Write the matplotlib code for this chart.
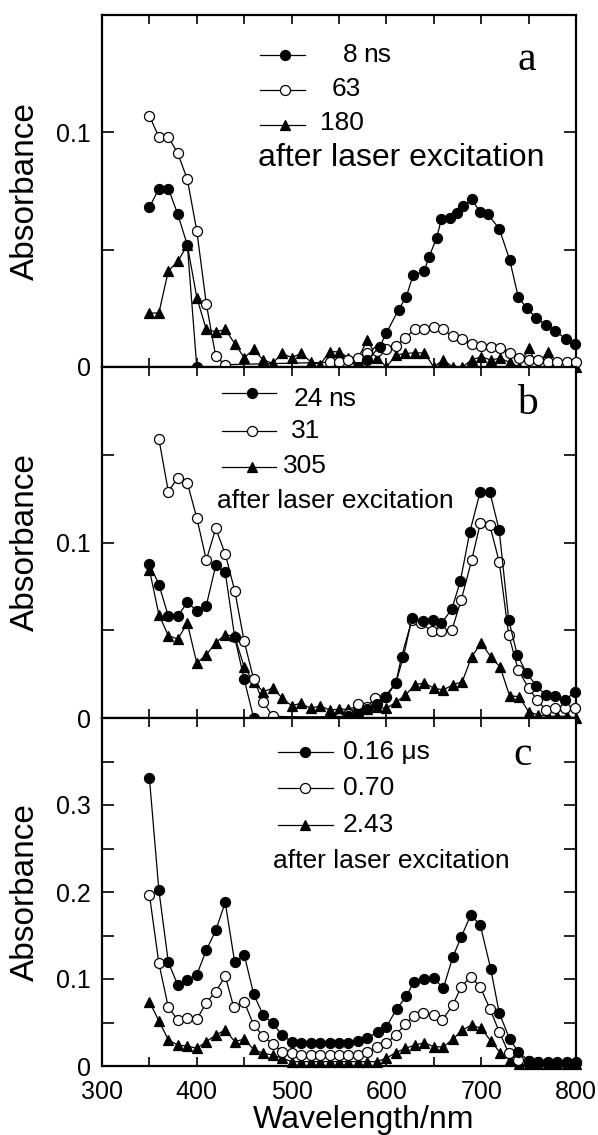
import numpy as np
import matplotlib
matplotlib.use("Agg")
import matplotlib.pyplot as plt
from matplotlib.lines import Line2D

plt.rcParams['font.family'] = ['Liberation Sans', 'DejaVu Sans']

# ---------------- data ----------------
# Panel a
wl_a1 = [350, 360, 370, 380, 390, 400, 570, 580, 593, 600, 613, 621, 628, 640, 645, 653, 658, 667, 674,
         681, 690, 699, 707, 719, 730, 739, 748, 758, 768, 778, 789, 799]
abs_a1 = [0.068, 0.076, 0.076, 0.065, 0.052, 0.0, 0.0, 0.003, 0.0087, 0.0145, 0.0245, 0.030, 0.039, 0.041,
          0.047, 0.055, 0.063, 0.0635, 0.0656, 0.0685, 0.0714, 0.066, 0.065, 0.059, 0.0457, 0.030, 0.025,
          0.021, 0.018, 0.0155, 0.012, 0.0097]
wl_a2 = [350, 360, 370, 380, 390, 400, 410, 420, 430, 540, 550, 560, 570, 580, 590, 600, 610, 620, 630,
         640, 650, 660, 670, 680, 690, 700, 710, 720, 730, 740, 750, 760, 770, 780, 790, 800]
abs_a2 = [0.107, 0.098, 0.098, 0.091, 0.080, 0.058, 0.027, 0.0045, 0.001, 0.002, 0.002, 0.003, 0.004,
          0.006, 0.007, 0.0075, 0.009, 0.0125, 0.016, 0.016, 0.017, 0.016, 0.013, 0.012, 0.010, 0.009,
          0.0085, 0.008, 0.006, 0.004, 0.003, 0.003, 0.002, 0.002, 0.002, 0.002]
wl_a3 = list(range(350, 801, 10))
abs_a3 = [0.023, 0.023, 0.041, 0.045, 0.052, 0.0296, 0.016, 0.015, 0.016, 0.010, 0.004, 0.0075, 0.003,
          0.0016, 0.0058, 0.004, 0.0058, 0.0023, 0.001, 0.0065, 0.0065, 0.004, 0.0037, 0.0115, 0.004,
          0.0, 0.005, 0.0058, 0.006, 0.006, 0.0, 0.003, 0.0, 0.0, 0.003, 0.0044, 0.003, 0.0037, 0.002,
          0.0, 0.008, 0.0, 0.0065, 0.0, 0.0, 0.0]

# Panel b
wl_b1 = [350, 360, 370, 380, 390, 400, 410, 420, 430, 440, 450, 460, 560, 570, 580, 590, 600, 610, 618,
         627, 639, 649, 658, 669, 678, 688, 699, 709, 719, 729, 738, 748, 758, 768, 778, 788, 799]
abs_b1 = [0.088, 0.076, 0.058, 0.058, 0.066, 0.061, 0.064, 0.087, 0.083, 0.046, 0.022, 0.0, 0.001, 0.002,
          0.005, 0.008, 0.012, 0.020, 0.035, 0.057, 0.055, 0.056, 0.054, 0.062, 0.078, 0.106, 0.129,
          0.129, 0.107, 0.056, 0.036, 0.0255, 0.0185, 0.013, 0.0125, 0.010, 0.015]
wl_b2 = [360, 370, 380, 390, 400, 410, 420, 430, 440, 450, 460, 470, 480, 550, 560, 570, 580, 588, 598,
         610, 616, 627, 637, 648, 658, 669, 679, 690, 699, 709, 719, 729, 739, 750, 759, 768, 778, 788, 799]
abs_b2 = [0.159, 0.129, 0.137, 0.134, 0.114, 0.090, 0.108, 0.0935, 0.0726, 0.0436, 0.0221, 0.0093, 0.001,
          0.0, 0.002, 0.008, 0.0065, 0.0115, 0.012, 0.020, 0.035, 0.056, 0.054, 0.0493, 0.0493, 0.050,
          0.0674, 0.090, 0.111, 0.110, 0.089, 0.0474, 0.0274, 0.017, 0.0103, 0.0046, 0.0055, 0.0055, 0.0055]
wl_b3 = list(range(350, 801, 10))
abs_b3 = [0.0846, 0.0589, 0.0469, 0.045, 0.054, 0.0313, 0.036, 0.043, 0.0474, 0.0465, 0.029, 0.0207,
          0.015, 0.017, 0.0115, 0.007, 0.0084, 0.0055, 0.0069, 0.0046, 0.005, 0.005, 0.007, 0.005, 0.006,
          0.0055, 0.009, 0.013, 0.0189, 0.020, 0.017, 0.016, 0.0189, 0.0207, 0.035, 0.0427, 0.035, 0.029,
          0.0126, 0.0122, 0.0036, 0.0017, 0.001, 0.001, 0.001, 0.0]

# Panel c
wl_c1 = [350, 360, 370, 380, 390, 400, 410, 420, 430, 440, 450, 460, 470, 480, 490, 500, 510, 520, 530,
         540, 550, 560, 570, 580, 591, 600, 611, 621, 629, 640, 650, 660, 670, 679, 689, 699, 710, 719,
         730, 739, 750, 760, 770, 780, 790, 800]
abs_c1 = [0.331, 0.202, 0.119, 0.093, 0.099, 0.105, 0.133, 0.156, 0.188, 0.119, 0.128, 0.0824, 0.0586,
          0.049, 0.0356, 0.028, 0.026, 0.026, 0.026, 0.026, 0.026, 0.027, 0.029, 0.032, 0.0395, 0.045,
          0.066, 0.080, 0.097, 0.0996, 0.101, 0.0893, 0.125, 0.1486, 0.1736, 0.162, 0.112, 0.061, 0.031,
          0.0165, 0.006, 0.005, 0.004, 0.004, 0.004, 0.004]
wl_c2 = [350, 360, 370, 380, 390, 400, 410, 420, 430, 439, 450, 460, 470, 480, 490, 500, 510, 520, 530,
         540, 550, 560, 570, 580, 590, 600, 610, 620, 629, 639, 650, 659, 670, 679, 689, 699, 709, 719,
         729, 739, 750, 760, 770, 780, 790, 800]
abs_c2 = [0.197, 0.118, 0.0674, 0.0529, 0.0548, 0.0536, 0.0728, 0.0854, 0.1034, 0.0674, 0.0739, 0.047,
          0.0345, 0.025, 0.0164, 0.0146, 0.0126, 0.0126, 0.0126, 0.0126, 0.0126, 0.0126, 0.0126, 0.016,
          0.022, 0.026, 0.036, 0.048, 0.0575, 0.0605, 0.0586, 0.0529, 0.070, 0.091, 0.1027, 0.091, 0.066,
          0.0395, 0.0146, 0.007, 0.006, 0.005, 0.005, 0.005, 0.005, 0.005]
wl_c3 = list(range(350, 801, 10))
abs_c3 = [0.0739, 0.052, 0.030, 0.024, 0.023, 0.0203, 0.028, 0.0356, 0.0414, 0.028, 0.031, 0.019, 0.0146,
          0.0126, 0.009, 0.005, 0.005, 0.005, 0.005, 0.005, 0.005, 0.005, 0.005, 0.005, 0.005, 0.009,
          0.0155, 0.0203, 0.024, 0.0268, 0.022, 0.022, 0.0306, 0.0414, 0.047, 0.0433, 0.029, 0.0153,
          0.007, 0.002, 0.002, 0.002, 0.002, 0.002, 0.002, 0.002]

labels_a = ["8", "63", "180"]
labels_b = ["24", "31", "305"]
labels_c = ["0.16 \u03bcs", "0.70", "2.43"]
note_text = "after laser excitation"
ylim_list = [0.15, 0.2, 0.4]
yticks_a = [0, 0.1]
yticks_b = [0, 0.1]
yticks_c = [0, 0.1, 0.2, 0.3]
ytick_labels_a = ["0", "0.1"]
ytick_labels_b = ["0", "0.1"]
ytick_labels_c = ["0", "0.1", "0.2", "0.3"]
xticks = [300, 400, 500, 600, 700, 800]
xtick_labels = ["300", "400", "500", "600", "700", "800"]

# ---------------- figure ----------------
W, H = 598, 1135
fig = plt.figure(figsize=(W / 100, H / 100), dpi=100)

def fx(px):
    return px / W

def fy(py):
    return 1 - py / H

left, right = 102, 576
panels = [(15, 367), (367, 718), (718, 1066)]
axes = []
for top, bot in panels:
    ax = fig.add_axes([fx(left), fy(bot), fx(right) - fx(left), (bot - top) / H])
    axes.append(ax)

styles = [dict(marker='o', mfc='black', mec='black'),
          dict(marker='o', mfc='white', mec='black'),
          dict(marker='^', mfc='black', mec='black')]
msizes = [7.2, 7.2, 7.5]

series = [
    [(wl_a1, abs_a1), (wl_a2, abs_a2), (wl_a3, abs_a3)],
    [(wl_b1, abs_b1), (wl_b2, abs_b2), (wl_b3, abs_b3)],
    [(wl_c1, abs_c1), (wl_c2, abs_c2), (wl_c3, abs_c3)],
]
ytk = [(yticks_a, ytick_labels_a), (yticks_b, ytick_labels_b), (yticks_c, ytick_labels_c)]

for i, ax in enumerate(axes):
    for j, (wl, ab) in enumerate(series[i]):
        ax.plot(wl, ab, color='black', lw=0.9, ms=msizes[j], mew=0.9, zorder=3 + (2 - j) * 0.1,
                clip_on=False, **styles[j])
    ax.set_xlim(300, 800)
    ax.set_ylim(0, ylim_list[i])
    ax.set_xticks(xticks)
    ax.set_xticks(np.arange(350, 800, 100), minor=True)
    ax.set_yticks(ytk[i][0])
    ax.set_yticklabels(ytk[i][1])
    ax.set_yticks(np.arange(0.05, ylim_list[i], 0.1), minor=True)
    ax.tick_params(axis='x', which='both', direction='in', top=True, bottom=True,
                   length=6.5, width=1.2, labelsize=18, pad=10)
    ax.tick_params(axis='y', which='both', direction='in', left=True, right=True,
                   length=8.5, width=1.2, labelsize=18, pad=8)
    for sp in ax.spines.values():
        sp.set_linewidth(1.6)
    if i < 2:
        ax.tick_params(axis='x', labelbottom=False)
    else:
        ax.set_xticklabels(xtick_labels)
    fig.text(fx(25), fy((panels[i][0] + panels[i][1]) / 2), "Absorbance", rotation=90,
             ha='center', va='center', fontsize=24)

fig.text(fx(364), fy(1120), "Wavelength/nm", ha='center', va='center', fontsize=23)

# ---------------- legends ----------------
def legend_line(x0, x1, xm, y, j):
    fig.add_artist(Line2D([fx(x0), fx(x1)], [fy(y), fy(y)], transform=fig.transFigure,
                          color='black', lw=0.9))
    fig.add_artist(Line2D([fx(xm)], [fy(y)], transform=fig.transFigure, color='black',
                          ms=msizes[j], mew=0.9, ls='none', **styles[j]))

# panel a
for j, y in enumerate([55, 90, 125]):
    legend_line(260, 305, 285, y, j)
fig.text(fx(357), fy(55), labels_a[0], ha='right', va='center', fontsize=19)
fig.text(fx(363), fy(55), "ns", ha='left', va='center', fontsize=19)
fig.text(fx(361), fy(89), labels_a[1], ha='right', va='center', fontsize=19)
fig.text(fx(364), fy(123), labels_a[2], ha='right', va='center', fontsize=19)
fig.text(fx(258), fy(158), note_text, ha='left', va='center', fontsize=23)
fig.text(fx(527), fy(60), "a", ha='center', va='center', fontsize=30, family='Liberation Serif')

# panel b
for j, y in enumerate([393, 431, 467]):
    legend_line(222, 276, 252, y, j)
fig.text(fx(323), fy(399), labels_b[0], ha='right', va='center', fontsize=19)
fig.text(fx(328), fy(399), "ns", ha='left', va='center', fontsize=19)
fig.text(fx(320), fy(431), labels_b[1], ha='right', va='center', fontsize=19)
fig.text(fx(327), fy(466), labels_b[2], ha='right', va='center', fontsize=19)
fig.text(fx(217), fy(501), note_text, ha='left', va='center', fontsize=19)
fig.text(fx(527), fy(404), "b", ha='center', va='center', fontsize=30, family='Liberation Serif')

# panel c
for j, y in enumerate([752, 788, 825]):
    legend_line(278, 333, 305, y, j)
for j, y in enumerate([752, 788, 825]):
    fig.text(fx(343), fy(y), labels_c[j], ha='left', va='center', fontsize=19)
fig.text(fx(273), fy(861), note_text, ha='left', va='center', fontsize=19)
fig.text(fx(523), fy(755), "c", ha='center', va='center', fontsize=30, family='Liberation Serif')

fig.savefig("out.png", dpi=100)
